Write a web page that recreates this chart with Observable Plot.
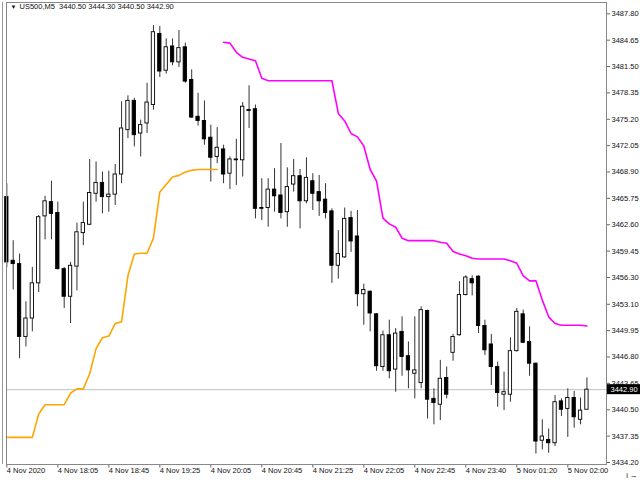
<!DOCTYPE html>
<html>
<head>
<meta charset="utf-8">
<script src="https://cdn.jsdelivr.net/npm/d3@7"></script>
<script src="https://cdn.jsdelivr.net/npm/@observablehq/plot@0.6"></script>
<style>
  html, body { margin: 0; padding: 0; background: #fff; }
  #chart { width: 640px; height: 480px; }
</style>
</head>
<body>
<div id="chart"></div>
<script>
// US500 M5 candles (bar index 0..91)
const header = "US500,M5  3440.50 3444.30 3440.50 3442.90";

const opens = [
  3465.9, 3458.3, 3457.9, 3449.2, 3451.4, 3455.6, 3463.6, 3465.3, 3464.0, 3457.3,
  3454.0, 3457.6, 3461.6, 3462.6, 3466.3, 3467.6, 3465.9, 3466.2, 3468.6, 3473.9,
  3477.4, 3473.5, 3474.7, 3476.9, 3485.4, 3481.0, 3483.9, 3482.0, 3483.8, 3479.9,
  3475.5, 3475.0, 3473.0, 3470.7, 3471.6, 3468.7, 3470.4, 3470.3, 3476.3, 3476.4,
  3464.5, 3464.6, 3466.8, 3466.1, 3464.1, 3467.4, 3468.4, 3465.4, 3467.8, 3466.5,
  3465.6, 3464.2, 3457.7, 3458.7, 3463.4, 3461.2, 3454.3, 3454.6, 3451.9, 3445.6,
  3449.4, 3445.3, 3449.8, 3446.9, 3444.8, 3443.7, 3452.3, 3441.8, 3441.1, 3444.3,
  3447.3, 3449.4, 3454.2, 3456.1, 3456.4, 3450.5, 3448.3, 3445.6, 3442.3, 3442.3,
  3447.5, 3451.9, 3448.6, 3446.0, 3436.8, 3436.9, 3436.5, 3441.5, 3440.6, 3441.9,
  3439.3, 3440.5
];
const highs = [
  3467.5, 3460.7, 3459.1, 3453.4, 3457.5, 3463.7, 3466.0, 3467.8, 3465.3, 3457.5,
  3458.1, 3462.8, 3465.3, 3470.4, 3470.1, 3468.9, 3469.0, 3469.8, 3477.3, 3478.0,
  3477.7, 3475.1, 3479.5, 3486.4, 3486.3, 3484.8, 3484.8, 3485.8, 3484.3, 3481.1,
  3478.3, 3477.4, 3474.5, 3474.2, 3472.1, 3470.7, 3472.8, 3477.2, 3479.2, 3476.9,
  3468.1, 3468.1, 3469.3, 3472.3, 3469.4, 3470.4, 3469.2, 3470.6, 3468.7, 3468.5,
  3467.5, 3464.5, 3461.9, 3464.6, 3464.2, 3464.3, 3455.5, 3454.7, 3452.0, 3449.9,
  3451.2, 3450.2, 3451.6, 3448.6, 3451.6, 3452.8, 3452.4, 3443.0, 3446.4, 3445.6,
  3449.5, 3455.8, 3456.5, 3456.5, 3456.5, 3451.2, 3449.5, 3446.2, 3445.0, 3449.1,
  3452.6, 3452.4, 3450.4, 3446.1, 3439.3, 3438.2, 3442.2, 3441.8, 3443.0, 3442.7,
  3441.9, 3444.3
];
const lows = [
  3457.5, 3454.8, 3446.6, 3448.0, 3449.8, 3454.5, 3460.8, 3460.8, 3457.2, 3452.6,
  3450.8, 3454.7, 3460.1, 3462.5, 3465.3, 3463.9, 3464.1, 3464.9, 3467.5, 3472.9,
  3471.9, 3470.7, 3473.5, 3476.3, 3480.2, 3480.6, 3481.6, 3481.4, 3479.5, 3475.3,
  3474.4, 3472.1, 3467.7, 3469.9, 3467.5, 3466.8, 3467.3, 3468.3, 3474.1, 3463.3,
  3463.1, 3462.3, 3464.1, 3463.3, 3462.3, 3466.5, 3462.1, 3465.1, 3464.3, 3463.6,
  3463.3, 3455.6, 3456.1, 3458.6, 3459.3, 3452.8, 3450.6, 3449.8, 3445.1, 3445.1,
  3444.2, 3442.6, 3444.5, 3443.0, 3441.8, 3443.0, 3439.4, 3438.7, 3439.2, 3441.8,
  3446.3, 3449.3, 3454.1, 3454.1, 3449.6, 3447.0, 3443.4, 3440.8, 3440.4, 3441.4,
  3447.4, 3448.4, 3444.5, 3435.2, 3435.7, 3435.3, 3436.1, 3439.7, 3437.2, 3438.3,
  3438.7, 3440.5
];
const closes = [
  3458.1, 3457.9, 3449.2, 3451.4, 3455.6, 3463.5, 3465.4, 3463.9, 3457.3, 3454.0,
  3457.7, 3461.7, 3462.8, 3466.4, 3467.6, 3465.9, 3466.2, 3468.6, 3474.1, 3477.4,
  3473.3, 3474.5, 3477.2, 3485.6, 3480.9, 3483.8, 3482.0, 3483.7, 3479.7, 3475.4,
  3475.0, 3472.8, 3470.6, 3471.8, 3468.6, 3470.4, 3470.3, 3476.7, 3476.2, 3464.5,
  3464.6, 3466.8, 3466.0, 3464.0, 3467.1, 3468.4, 3465.4, 3468.2, 3466.3, 3465.4,
  3464.0, 3457.7, 3459.1, 3463.3, 3460.6, 3454.3, 3454.8, 3452.0, 3445.7, 3449.4,
  3445.1, 3449.6, 3446.8, 3445.2, 3445.2, 3452.4, 3441.7, 3441.3, 3444.2, 3442.3,
  3449.2, 3454.2, 3456.3, 3455.6, 3450.5, 3447.6, 3445.6, 3442.5, 3442.6, 3447.5,
  3452.2, 3448.5, 3446.0, 3436.7, 3437.3, 3436.5, 3441.4, 3440.5, 3441.9, 3439.6,
  3440.4, 3442.9
];

// orange rising stop line (bars 0..33)
const upStart = 0;
const upLine = [
  3437.2, 3437.2, 3437.2, 3437.2, 3437.2, 3440.0, 3441.1, 3441.1, 3441.1, 3441.1,
  3442.5, 3443.0, 3443.0, 3444.8, 3447.8, 3449.1, 3449.3, 3450.8, 3451.0, 3456.5,
  3459.1, 3459.2, 3459.2, 3461.0, 3466.5, 3467.4, 3468.3, 3468.5, 3468.9, 3469.1,
  3469.2, 3469.2, 3469.2, 3469.2
];
// magenta falling stop line (bars 34..91)
const downStart = 34;
const downLine = [
  3484.4, 3484.3, 3483.2, 3482.6, 3482.4, 3482.2, 3480.1, 3479.8, 3479.8, 3479.8,
  3479.8, 3479.8, 3479.8, 3479.8, 3479.8, 3479.8, 3479.8, 3479.8, 3475.9, 3475.0,
  3473.5, 3473.1, 3472.0, 3469.2, 3467.8, 3463.4, 3462.7, 3462.3, 3461.0, 3460.7,
  3460.7, 3460.7, 3460.7, 3460.7, 3460.5, 3460.4, 3459.4, 3459.1, 3458.9, 3458.6,
  3458.5, 3458.5, 3458.5, 3458.5, 3458.5, 3458.3, 3458.0, 3456.5, 3455.9, 3455.9,
  3453.6, 3451.6, 3450.8, 3450.6, 3450.6, 3450.6, 3450.6, 3450.5
];

const timeTickBars = [0, 8, 16, 24, 32, 40, 48, 56, 64, 72, 80, 88];
const timeTickLabels = [
  "4 Nov 2020", "4 Nov 18:05", "4 Nov 18:45", "4 Nov 19:25", "4 Nov 20:05", "4 Nov 20:45",
  "4 Nov 21:25", "4 Nov 22:05", "4 Nov 22:45", "4 Nov 23:40", "5 Nov 01:20", "5 Nov 02:00"
];
const priceTicks = [
  3434.20, 3437.35, 3440.50, 3443.65, 3446.80, 3449.95, 3453.10, 3456.30, 3459.45,
  3462.60, 3465.75, 3468.90, 3472.05, 3475.20, 3478.35, 3481.50, 3484.65, 3487.80
];

(function () {
  const candles = opens.map((o, i) => ({ i, o, h: highs[i], l: lows[i], c: closes[i] }));
  const up = candles.filter((d) => d.c > d.o);
  const down = candles.filter((d) => d.c <= d.o);
  const upRows = upLine.map((v, k) => ({ i: upStart + k, v }));
  const downRows = downLine.map((v, k) => ({ i: downStart + k, v }));
  const last = closes[closes.length - 1];
  const bodyHalf = 0.26;

  const body = (rows, fill) =>
    Plot.rect(rows, {
      x1: (d) => d.i - bodyHalf,
      x2: (d) => d.i + bodyHalf,
      y1: (d) => Math.min(d.o, d.c),
      y2: (d) => Math.max(d.o, d.c),
      fill,
      stroke: "#000",
      strokeWidth: 0.9,
    });

  const fig = Plot.plot({
    width: 640,
    height: 480,
    marginLeft: 6,
    marginRight: 34,
    marginTop: 2,
    marginBottom: 16,
    style: { fontFamily: "Liberation Sans, Arial, sans-serif", fontSize: "7.5px", background: "#fff", color: "#111" },
    x: { type: "linear", domain: [-0.05, 94.07], axis: null },
    y: { domain: [3433.96, 3489.15], axis: null },
    marks: [
      Plot.ruleY([last], { stroke: "#c0c0c0" }),
      Plot.ruleX(candles, { x: "i", y1: "l", y2: "h", stroke: "#333", strokeWidth: 1 }),
      body(down, "#000"),
      body(up, "#fff"),
      Plot.line(upRows, { x: "i", y: "v", stroke: "#ffa500", strokeWidth: 1.6 }),
      Plot.line(downRows, { x: "i", y: "v", stroke: "#ff00ff", strokeWidth: 1.6 }),
      Plot.axisY(priceTicks, {
        anchor: "right",
        tickSize: 3,
        tickPadding: 2,
        stroke: "#666",
        tickFormat: (d) => d.toFixed(2),
      }),
      Plot.axisX(timeTickBars, {
        anchor: "bottom",
        tickSize: 3.5,
        tickPadding: 0,
        textAnchor: "start",
        stroke: "#666",
        tickFormat: (d) => timeTickLabels[timeTickBars.indexOf(d)],
      }),
      Plot.frame({ stroke: "#888" }),
      Plot.text(["▼"], { frameAnchor: "top-left", dx: 4, dy: 2.5, fontSize: 6, lineAnchor: "top", textAnchor: "start", fill: "#111" }),
      Plot.text([header], { frameAnchor: "top-left", dx: 13, dy: 1.5, lineAnchor: "top", textAnchor: "start", fill: "#111" }),
    ],
  });

  // current price tag on the price scale
  const svg = d3.select(fig);
  const yLast = fig.scale("y").apply(last);
  svg.append("line")
    .attr("x1", 2.5).attr("x2", 2.5).attr("y1", 2).attr("y2", 464)
    .attr("stroke", "#999");
  svg.append("rect")
    .attr("x", 607).attr("y", yLast - 5).attr("width", 33).attr("height", 10)
    .attr("fill", "#000");
  svg.append("text")
    .attr("x", 610.5).attr("y", yLast).attr("dy", "0.35em")
    .attr("text-anchor", "start")
    .attr("fill", "#fff")
    .text(last.toFixed(2));

  document.getElementById("chart").replaceChildren(fig);
})();
</script>
</body>
</html>
